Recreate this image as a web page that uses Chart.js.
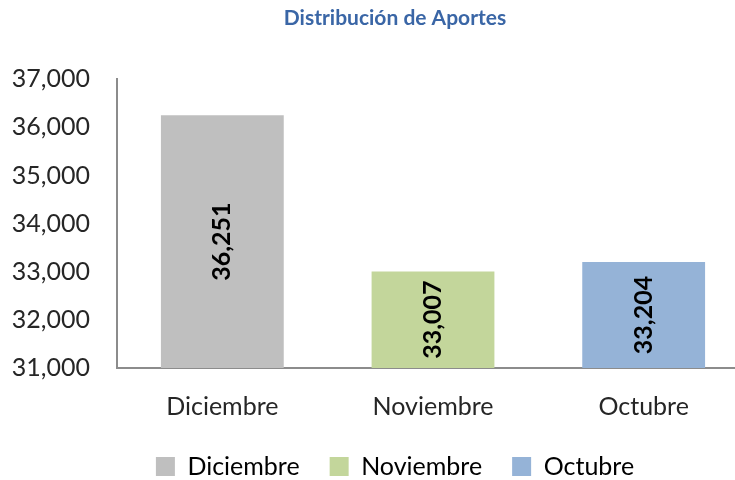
<!DOCTYPE html>
<html>
<head>
<meta charset="utf-8">
<script src="https://cdn.jsdelivr.net/npm/chart.js@4"></script>
<style>
  html, body { margin: 0; padding: 0; background: #fff; overflow: hidden; }
</style>
</head>
<body>
<canvas id="aportes" width="790" height="480"></canvas>
<script>
// datos
const meses = ['Diciembre', 'Noviembre', 'Octubre'];
const aportes = [36251, 33007, 33204];
const colores = ['#BFBFBF', '#C3D69B', '#95B3D7'];
const yMin = 31000;
const yMax = 37000;
const yPaso = 1000;

const fmt = v => Number(v).toLocaleString('en-US');

// etiquetas verticales dentro de cada barra
const etiquetasBarras = {
  id: 'etiquetasBarras',
  afterDatasetsDraw(chart) {
    const c = chart.ctx;
    const abajo = chart.chartArea.bottom;
    chart.getDatasetMeta(0).data.forEach((bar, i) => {
      // la base real (valor 0) queda muy por debajo del area visible
      const mid = (bar.y + Math.min(bar.base, abajo)) / 2;
      c.save();
      c.translate(bar.x, mid);
      c.rotate(-Math.PI / 2);
      c.font = 'bold 25px Lato, sans-serif';
      c.fillStyle = '#000000';
      c.textAlign = 'center';
      c.textBaseline = 'middle';
      c.fillText(fmt(aportes[i]), 0, 0);
      c.restore();
    });
  }
};

const ctx = document.getElementById('aportes').getContext('2d');

new Chart(ctx, {
  type: 'bar',
  data: {
    labels: meses,
    datasets: [{
      data: aportes,
      backgroundColor: colores,
      borderWidth: 0,
      categoryPercentage: 1,
      barPercentage: 0.583
    }]
  },
  options: {
    responsive: false,
    animation: false,
    layout: { padding: { left: 0, right: 0, top: 0, bottom: -9 } },
    plugins: {
      title: {
        display: true,
        text: 'Distribución de Aportes',
        color: '#3A66A6',
        font: { family: 'Lato', size: 21, weight: 'bold' },
        padding: { top: 6, bottom: 48 }
      },
      legend: {
        position: 'bottom',
        labels: {
          // cada leyenda con el color de su barra
          generateLabels: () => meses.map((m, i) => ({
            text: m,
            fillStyle: colores[i],
            strokeStyle: colores[i],
            lineWidth: 0,
            index: i
          })),
          boxWidth: 19,
          boxHeight: 19,
          padding: 30,
          color: '#262626',
          font: { family: 'Lato', size: 25 }
        }
      },
      tooltip: { enabled: false }
    },
    scales: {
      x: {
        grid: { display: false },
        border: { display: true, color: '#8C8C8C', width: 2 },
        ticks: {
          color: '#262626',
          font: { family: 'Lato', size: 25 },
          padding: 16
        },
        afterFit: scale => { scale.height = scale.height - 14; }
      },
      y: {
        min: yMin,
        max: yMax,
        grid: { display: false, drawTicks: false },
        border: { display: true, color: '#8C8C8C', width: 2 },
        ticks: {
          stepSize: yPaso,
          color: '#262626',
          font: { family: 'Lato', size: 25 },
          padding: 27,
          callback: v => fmt(v)
        },
        afterFit: scale => { scale.width = 117; }
      },
      // eje vacio a la derecha: el grafico original sigue fuera del recorte
      yDer: {
        position: 'right',
        min: yMin,
        max: yMax,
        grid: { display: false },
        border: { display: false },
        ticks: { display: false },
        afterFit: scale => { scale.width = 41; }
      }
    }
  },
  plugins: [etiquetasBarras]
});
</script>
</body>
</html>
